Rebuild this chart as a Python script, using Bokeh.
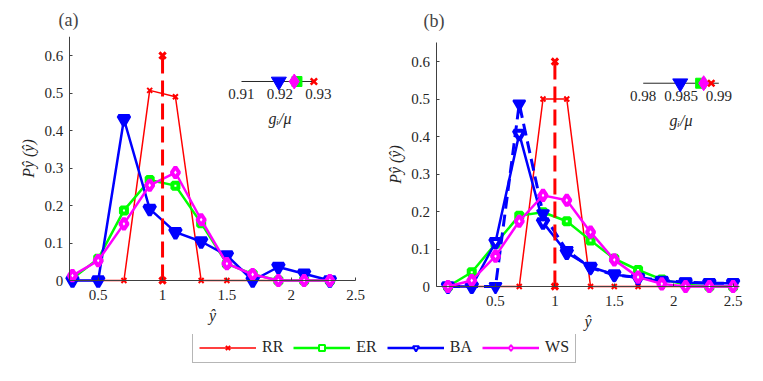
from bokeh.plotting import figure
from bokeh.models import Range1d, FixedTicker, NumeralTickFormatter, Legend, LegendItem
from bokeh.layouts import column, row
from bokeh.core.properties import value
from bokeh.embed import file_html
from bokeh.resources import INLINE

# ---------------- data : panel (a) ----------------
a_x = [0.3, 0.5, 0.7, 0.9, 1.1, 1.3, 1.5, 1.7, 1.9, 2.1, 2.3]
a_rr = [0, 0, 0, 0.507, 0.490, 0, 0, 0, 0, 0, 0]
a_er = [0.005, 0.058, 0.187, 0.268, 0.253, 0.153, 0.045, 0.017, 0, 0, 0]
a_ba = [0, 0, 0.430, 0.191, 0.129, 0.104, 0.067, 0, 0.036, 0.018, 0]
a_ws = [0.013, 0.053, 0.151, 0.254, 0.288, 0.162, 0.045, 0.016, 0, 0, 0]
a_xlim = [0.275, 2.5]
a_inset_ticks = [0.91, 0.92, 0.93]
a_inset_lim = [0.91, 0.9288]
a_inset_vals = [0.9288, 0.9244, 0.9197, 0.9237]   # RR, ER, BA, WS

# ---------------- data : panel (b) ----------------
b_x = [0.1, 0.3, 0.5, 0.7, 0.9, 1.1, 1.3, 1.5, 1.7, 1.9, 2.1, 2.3, 2.5]
b_rr = [0, 0, 0, 0, 0.5, 0.5, 0, 0, 0, 0, 0, 0, 0]
b_er = [0, 0.038, 0.114, 0.189, 0.198, 0.174, 0.123, 0.074, 0.044, 0.019, 0.005, 0, 0]
b_ba = [0, 0, 0.118, 0.407, 0.171, 0.090, 0.052, 0.032, 0.023, 0.015, 0.011, 0.009, 0.009]
b_ba_dash = [0, 0, 0, 0.487, 0.194, 0.096, 0.050, 0.031, 0.024, 0.016, 0.012, 0.009, 0.009]
b_ws = [0, 0.016, 0.081, 0.174, 0.243, 0.230, 0.145, 0.071, 0.025, 0.007, 0, 0, 0]
b_xlim = [0.0, 2.55]
b_inset_ticks = [0.98, 0.985, 0.99]
b_inset_lim = [0.98, 0.99]
b_inset_vals = [0.9890, 0.9876, 0.9849, 0.9880]   # RR, ER, BA, WS

# mean-field reference (dashed stem)
stem_x = [1.0, 1.0]
stem_y = [0.0, 0.6]

x_ticks = [0.5, 1, 1.5, 2, 2.5]
y_ticks = [0, 0.1, 0.2, 0.3, 0.4, 0.5, 0.6]
ylim = [0, 0.65]
names = ["RR", "ER", "BA", "WS"]

FONT = "'Liberation Serif'"
RED, GREEN, BLUE, MAG = "#ff0000", "#00ff00", "#0000ff", "#ff00ff"
AX = "#404040"
NAN = float("nan")


def panel(label, title_offset, title_valign, width, mb_left, xr, yr, xlim, x, rr, er, ba, ws,
          ba_dash, ins_range, ins_y, ins_ticks, ins_lim, ins_vals):
    p = figure(width=width, height=334, x_range=Range1d(*xr), y_range=Range1d(*yr),
               output_backend="svg", toolbar_location=None,
               min_border_left=mb_left, min_border_right=0, min_border_bottom=0, min_border_top=36,
               outline_line_color=None)
    p.grid.visible = False
    p.title.text = label
    p.title.text_font = FONT
    p.title.text_font_size = "18px"
    p.title.text_font_style = "normal"
    p.title.align = "left"
    p.title.offset = title_offset
    p.title.vertical_align = title_valign

    p.xaxis.fixed_location = 0
    p.yaxis.fixed_location = xlim[0]
    p.xaxis.bounds = (xlim[0], xlim[1])
    p.yaxis.bounds = (ylim[0], ylim[1])
    p.xaxis.ticker = FixedTicker(ticks=x_ticks)
    p.yaxis.ticker = FixedTicker(ticks=y_ticks)
    for ax in (p.xaxis[0], p.yaxis[0]):
        ax.formatter = NumeralTickFormatter(format="0.[0]")
        ax.axis_line_color = AX
        ax.major_tick_line_color = AX
        ax.major_tick_in = 3
        ax.major_tick_out = 0
        ax.minor_tick_line_color = None
        ax.major_label_text_font = FONT
        ax.major_label_text_font_size = "15px"
        ax.major_label_text_color = "#262626"
        ax.axis_label_text_font = FONT
        ax.axis_label_text_font_size = "16px"
        ax.axis_label_text_font_style = "italic"
        ax.axis_label_text_color = "#262626"
    p.xaxis.major_label_standoff = 9
    p.yaxis.major_label_standoff = 6
    p.xaxis.axis_label = "\u0177"
    p.xaxis.axis_label_standoff = 4
    p.yaxis.axis_label = "P\u0177 (\u0177)"
    p.yaxis.axis_label_standoff = 5

    # RR
    p.line(x, rr, line_color=RED, line_width=1.5)
    p.scatter(x, rr, marker="x", size=7, line_color=RED, line_width=2)
    # ER
    p.line(x, er, line_color=GREEN, line_width=2.5)
    p.scatter(x, er, marker="square", size=6, line_color=GREEN, fill_color="white", line_width=4)
    # BA
    p.line(x, ba, line_color=BLUE, line_width=2.5)
    p.scatter(x, ba, marker="inverted_triangle", size=11, line_color=BLUE,
              fill_color="white" if ba_dash is not None else BLUE, line_width=4)
    if ba_dash is not None:
        p.line(x, ba_dash, line_color=BLUE, line_width=3, line_dash="12 6")
        p.scatter(x, ba_dash, marker="inverted_triangle", size=12, line_color=BLUE,
                  fill_color=BLUE, line_width=2)
    # WS
    p.line(x, ws, line_color=MAG, line_width=2.5)
    p.scatter(x, ws, marker="diamond", size=11, line_color=MAG, fill_color="white", line_width=4)
    # mean-field stem
    p.line(stem_x, stem_y, line_color=RED, line_width=3, line_dash="16 7")
    p.scatter(stem_x, stem_y, marker="x", size=9, line_color=RED, line_width=3)

    # inset axis g_i / mu
    p.extra_x_ranges = {"ins": Range1d(*ins_range)}
    p.line(ins_lim, [ins_y, ins_y], x_range_name="ins", line_color="#262626", line_width=1)
    p.text(ins_ticks, [ins_y] * len(ins_ticks), text=[f"{t:g}" for t in ins_ticks],
           x_range_name="ins", text_align="center", text_baseline="top", y_offset=8,
           text_font=value(FONT), text_font_size="15px", text_color="#262626")
    p.text([(ins_ticks[0] + ins_ticks[-1]) / 2], [ins_y], text=["g\u1d62/\u03bc"],
           x_range_name="ins", text_align="center", text_baseline="middle", y_offset=37,
           text_font=value(FONT), text_font_size="16px", text_font_style="italic",
           text_color="#262626")
    rr_v, er_v, ba_v, ws_v = ins_vals
    p.scatter([er_v], [ins_y], x_range_name="ins", marker="square", size=10,
              line_color=GREEN, fill_color=GREEN)
    p.scatter([ba_v], [ins_y], x_range_name="ins", marker="inverted_triangle", size=15,
              line_color=BLUE, fill_color=BLUE)
    p.scatter([ws_v], [ins_y], x_range_name="ins", marker="diamond", size=15,
              line_color=MAG, fill_color=MAG)
    p.scatter([rr_v], [ins_y], x_range_name="ins", marker="x", size=9,
              line_color=RED, line_width=2.5)
    return p


p1 = panel("(a)", 50, "top", 380, 8, (-0.1970, 2.6935), (-0.144, 0.6507), a_xlim,
           a_x, a_rr, a_er, a_ba, a_ws, None,
           (0.849481, 0.946104), 0.5307, a_inset_ticks, a_inset_lim, a_inset_vals)
p2 = panel("(b)", 43, "middle", 375, 0, (-0.468, 2.6886), (-0.128, 0.6667), b_xlim,
           b_x, b_rr, b_er, b_ba, b_ws, b_ba_dash,
           (0.945251, 0.994854), 0.5421, b_inset_ticks, b_inset_lim, b_inset_vals)

# ---------------- legend ----------------
lf = figure(width=755, height=40, x_range=Range1d(0, 1), y_range=Range1d(0, 1),
            x_axis_location=None, y_axis_location=None, toolbar_location=None,
            output_backend="svg", min_border=0, outline_line_color=None)
lf.grid.visible = False
styles = [(RED, "x", 7, 1.5), (GREEN, "square", 9, 2.5), (BLUE, "inverted_triangle", 12, 2.5),
          (MAG, "diamond", 13, 2.5)]
items = []
for name, (col, mk, ms, lw) in zip(names, styles):
    l = lf.line([NAN], [NAN], line_color=col, line_width=lw)
    s = lf.scatter([NAN], [NAN], marker=mk, size=ms, line_color=col, fill_color="white",
                   line_width=2)
    items.append(LegendItem(label=value(name), renderers=[l, s]))
leg = Legend(items=items, location=(192, 11), orientation="horizontal",
             glyph_width=57, glyph_height=15, label_standoff=6, spacing=10, padding=6,
             margin=0, border_line_color="#6e6e6e", border_line_width=1,
             label_text_font=FONT, label_text_font_size="16px", label_text_color="#262626")
lf.add_layout(leg, "center")

layout = column(row(p1, p2), lf)
open("out.html", "w").write(file_html(layout, INLINE))
